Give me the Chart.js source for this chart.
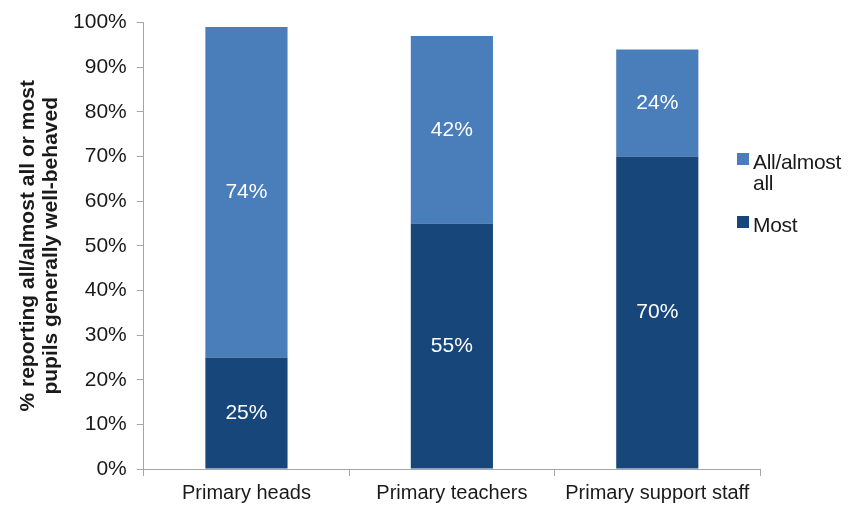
<!DOCTYPE html>
<html>
<head>
<meta charset="utf-8">
<script src="https://cdn.jsdelivr.net/npm/chart.js@4.4.1/dist/chart.umd.min.js"></script>
<style>
  html, body { margin: 0; padding: 0; background: #fff; }
  #wrap { position: relative; width: 852px; height: 512px; }
  #legend { position: absolute; left: 737px; top: 151px; font: 21px "Liberation Sans", Arial, sans-serif; color: #1a1a1a; letter-spacing: -0.3px; }
  .item { position: relative; padding-left: 16px; line-height: 21px; margin-bottom: 21px; }
  .sw { position: absolute; left: 0; top: 2px; width: 12px; height: 12px; }
</style>
</head>
<body>
<div id="wrap">
  <canvas id="c" width="852" height="512"></canvas>
  <div id="legend">
    <div class="item"><span class="sw" style="background:#4a7ebb"></span>All/almost<br>all</div>
    <div class="item"><span class="sw" style="background:#17477a"></span>Most</div>
  </div>
</div>
<script>
/***********************
 * DATA
 ***********************/
const categories = ["Primary heads", "Primary teachers", "Primary support staff"];
const most = [25, 55, 70];
const allAlmostAll = [74, 42, 24];
const yTicks = [0, 10, 20, 30, 40, 50, 60, 70, 80, 90, 100];

const FONT = '"Liberation Sans", Arial, sans-serif';

// white % labels centred in each bar segment
const barLabels = {
  id: "barLabels",
  afterDatasetsDraw(chart) {
    const ctx = chart.ctx;
    ctx.save();
    ctx.fillStyle = "#fff";
    ctx.font = "21px " + FONT;
    ctx.textAlign = "center";
    ctx.textBaseline = "middle";
    chart.data.datasets.forEach((ds, i) => {
      chart.getDatasetMeta(i).data.forEach((bar, j) => {
        ctx.fillText(ds.data[j] + "%", bar.x, (bar.y + bar.base) / 2);
      });
    });
    ctx.restore();
  },
};

new Chart(document.getElementById("c"), {
  type: "bar",
  data: {
    labels: categories,
    datasets: [
      { label: "Most", data: most, backgroundColor: "#17477a" },
      { label: "All/almost all", data: allAlmostAll, backgroundColor: "#4a7ebb" },
    ],
  },
  options: {
    responsive: false,
    animation: false,
    layout: { padding: { top: 10, right: 92, bottom: 2, left: 16 } },
    plugins: { legend: { display: false }, tooltip: { enabled: false } },
    datasets: { bar: { categoryPercentage: 1, barPercentage: 0.4 } },
    scales: {
      x: {
        stacked: true,
        grid: { offset: true, drawOnChartArea: false, drawTicks: true, tickLength: 7, color: "#a6a6a6" },
        border: { color: "#a6a6a6" },
        ticks: { color: "#1a1a1a", font: { family: FONT, size: 20 }, padding: 5 },
      },
      y: {
        stacked: true,
        min: 0,
        max: 100,
        afterBuildTicks: (axis) => { axis.ticks = yTicks.map((v) => ({ value: v })); },
        grid: { drawOnChartArea: false, drawTicks: true, tickLength: 7, color: "#a6a6a6" },
        border: { color: "#a6a6a6" },
        ticks: { color: "#1a1a1a", font: { family: FONT, size: 21 }, padding: 10, callback: (v) => v + "%" },
        title: {
          display: true,
          text: ["% reporting all/almost all or most", "pupils generally well-behaved"],
          color: "#1a1a1a",
          font: { family: FONT, size: 21, weight: "bold", lineHeight: 1.12 },
          padding: { top: 0, bottom: 0 },
        },
      },
    },
  },
  plugins: [barLabels],
});
</script>
</body>
</html>
